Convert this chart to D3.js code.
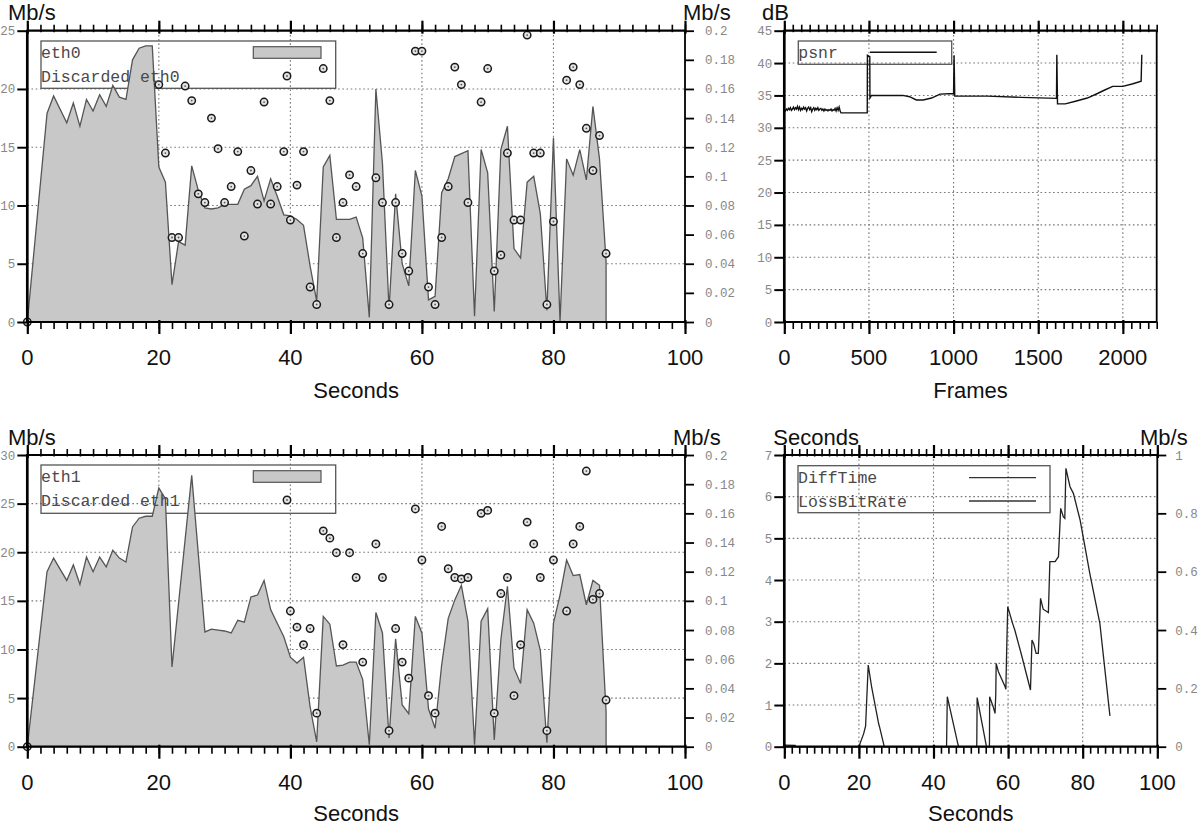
<!DOCTYPE html>
<html><head><meta charset="utf-8">
<script src="https://cdn.jsdelivr.net/npm/d3@7"></script>
<style>body{margin:0;background:#fff}svg{display:block}</style>
</head><body>
<svg width="1200" height="826"></svg>
<script>
// ---------------- DATA ----------------
// eth0 throughput (seconds, Mb/s)
const eth0 = [[0,0],[3,17.9],[4,19.4],[6,17.1],[7,18.8],[8,16.8],[9,19.1],[10,18.1],[11,19.5],[12,18.5],[13,20.3],[14,19.3],[15,19.1],[16,22.5],[17,23.5],[18,23.7],[19,23.7],[20,13.3],[21,12.0],[22,3.2],[23,6.9],[24,6.6],[25,13.4],[26,11.3],[27,9.8],[28,9.7],[29,9.8],[30,10.1],[31,10.1],[32,10.1],[33,11.4],[34,11.7],[35,12.5],[36,10.4],[37,12.3],[38,10.8],[39,9.2],[40,9.1],[41,8.8],[42,8.3],[43,4.8],[44,1.8],[45,13.3],[46,14.3],[47,8.8],[48,8.8],[49,8.8],[50,9.0],[51,7.2],[52,0.4],[53,20.0],[54,13.6],[55,1.1],[56,11.0],[57,5.0],[58,3.1],[59,13.0],[60,10.8],[61,1.9],[62,2.2],[63,11.1],[64,12.3],[65,14.2],[67,14.7],[68,0.5],[69,14.8],[70,12.8],[71,0.9],[72,14.8],[73,16.8],[74,6.3],[75,5.5],[76,12.0],[77,12.5],[78,9.3],[79,1.0],[80,15.8],[81,0.05],[82,14.0],[83,12.6],[84,14.8],[85,12.2],[86,18.5],[87,14.0],[88,5.2]];
// discarded eth0 (seconds, Mb/s on right axis)
const eth0Discarded = [[0,0],[20,0.163],[21,0.116],[22,0.058],[23,0.058],[24,0.162],[25,0.152],[26,0.088],[27,0.082],[28,0.140],[29,0.119],[30,0.082],[31,0.093],[32,0.117],[33,0.059],[34,0.104],[35,0.081],[36,0.151],[37,0.081],[38,0.093],[39,0.117],[40,0.070],[41,0.094],[42,0.117],[43,0.024],[44,0.012],[45,0.174],[46,0.152],[47,0.058],[48,0.082],[49,0.101],[50,0.093],[51,0.047],[53,0.099],[54,0.082],[55,0.012],[56,0.082],[57,0.047],[58,0.035],[59,0.186],[60,0.186],[61,0.024],[62,0.012],[63,0.058],[64,0.093],[65,0.175],[66,0.163],[67,0.082],[69,0.151],[70,0.174],[71,0.035],[72,0.046],[73,0.116],[74,0.070],[75,0.070],[76,0.197],[77,0.116],[78,0.116],[79,0.012],[80,0.069],[82,0.166],[83,0.175],[84,0.163],[85,0.133],[86,0.104],[87,0.128],[88,0.047]];
// eth1 throughput
const eth1 = [[0,0],[3,18.0],[4,19.4],[6,17.1],[7,18.7],[8,16.7],[9,19.5],[10,18.0],[11,19.5],[12,18.5],[13,20.2],[14,19.4],[15,19.0],[16,22.6],[17,23.5],[18,23.7],[19,23.7],[20,26.6],[21,25.5],[22,8.2],[25,27.9],[27,11.8],[28,12.1],[29,12.0],[30,11.9],[31,11.7],[32,13.0],[33,12.8],[34,15.4],[35,15.6],[36,17.1],[37,14.1],[38,12.7],[39,11.3],[40,9.2],[41,8.6],[42,9.2],[43,4.1],[44,0.5],[45,13.4],[46,12.6],[47,8.3],[48,8.4],[49,8.7],[50,8.7],[51,6.9],[52,0.2],[53,13.8],[54,11.7],[55,0.9],[56,11.1],[57,4.3],[58,3.4],[59,13.4],[60,11.7],[61,3.9],[62,1.9],[63,8.4],[64,13.2],[65,15.1],[66,16.6],[67,12.9],[68,0.2],[69,12.9],[70,14.2],[71,0.7],[72,11.0],[73,16.5],[74,8.1],[75,6.5],[76,14.1],[77,12.7],[78,9.9],[79,0.4],[80,12.7],[81,15.6],[82,19.2],[83,17.6],[84,17.7],[85,14.6],[86,17.1],[87,16.6],[88,3.6]];
// discarded eth1
const eth1Discarded = [[0,0],[40,0.093],[41,0.082],[42,0.070],[43,0.081],[44,0.023],[45,0.148],[46,0.143],[47,0.133],[48,0.070],[49,0.133],[50,0.116],[51,0.058],[53,0.139],[54,0.116],[55,0.011],[56,0.081],[57,0.058],[58,0.047],[59,0.163],[60,0.128],[61,0.035],[62,0.023],[63,0.151],[64,0.122],[65,0.116],[66,0.115],[67,0.116],[69,0.160],[70,0.162],[71,0.023],[72,0.105],[73,0.116],[74,0.035],[75,0.070],[76,0.154],[77,0.139],[78,0.116],[79,0.011],[80,0.128],[82,0.093],[83,0.139],[84,0.151],[85,0.189],[86,0.101],[87,0.105],[88,0.032]];
// psnr (frame, dB)
const psnr = [[0,32.8],[6,32.6],[12,32.9],[18,32.7],[24,33.0],[30,32.8],[36,33.1],[42,32.7],[48,32.9],[54,33.2],[60,32.8],[66,33.1],[72,32.9],[78,33.3],[84,32.8],[90,33.2],[96,32.7],[102,33.0],[108,32.8],[114,33.2],[120,32.9],[126,33.1],[132,32.6],[138,33.0],[144,33.2],[150,32.8],[156,33.1],[162,32.5],[168,32.9],[174,33.1],[180,32.7],[186,33.0],[192,32.8],[198,33.1],[204,32.7],[210,32.9],[216,33.0],[222,32.7],[228,32.9],[234,32.6],[240,32.9],[246,32.7],[252,32.8],[258,32.6],[264,32.8],[270,32.7],[276,32.9],[282,32.6],[288,32.8],[294,32.7],[300,33.0],[306,32.6],[312,33.1],[318,32.7],[324,33.2],[330,32.6],[335,32.3],[490,32.3],[491,41.2],[505,41.0],[506,34.6],[515,35.0],[600,35.0],[700,35.0],[740,34.8],[780,34.3],[820,34.3],[870,34.6],[920,35.2],[1000,35.3],[1003,41.2],[1007,34.9],[1200,34.9],[1400,34.7],[1608,34.55],[1610,41.3],[1614,33.7],[1660,33.7],[1720,34.1],[1790,34.6],[1850,35.3],[1890,35.8],[1940,36.4],[2000,36.4],[2060,36.8],[2108,37.2],[2112,41.3]];
// DiffTime (seconds, seconds)
const diffTime = [[0,0.04],[2.9,0.03],[3,0],[20,0],[21.3,0.32],[21.8,0.5],[22.5,1.96],[23.4,1.44],[25.3,0.55],[25.6,0.45],[26.8,0],[43.5,0],[43.7,1.2],[46.6,0.04],[46.8,0],[51.6,0],[51.7,1.18],[54.2,0],[55,0],[55.05,1.2],[56,0.96],[56.5,0.8],[56.7,1.28],[56.8,2.0],[57.4,1.8],[59.2,1.44],[59.4,1.38],[59.6,2.24],[59.9,3.36],[61.2,2.96],[61.8,2.8],[63.6,2.2],[66.0,1.36],[66.4,2.56],[66.9,2.46],[67.5,2.24],[68.1,2.24],[68.7,3.56],[69.4,3.3],[70.8,3.22],[71.2,4.44],[72.6,4.44],[73.5,4.56],[74.1,5.72],[74.8,5.52],[75.2,5.48],[75.5,6.68],[76.6,6.24],[77.5,6.08],[79.3,5.44],[81.9,4.16],[84.6,2.96],[87.3,0.74]];
// LossBitRate (seconds, Mb/s on right axis) - lies on the zero line
const lossBitRate = [[0,0],[87,0]];

// tick values / labels
const secTicks = [0,20,40,60,80,100];
const frameTicks = [0,500,1000,1500,2000];
const eth0YTicks = [0,5,10,15,20,25];
const eth1YTicks = [0,5,10,15,20,25,30];
const psnrYTicks = [0,5,10,15,20,25,30,35,40,45];
const diffYTicks = [0,1,2,3,4,5,6,7];
const discTicks = [0,0.02,0.04,0.06,0.08,0.1,0.12,0.14,0.16,0.18,0.2];
const discTickLabels = ["0","0.02","0.04","0.06","0.08","0.1","0.12","0.14","0.16","0.18","0.2"];
const lossTicks = [0,0.2,0.4,0.6,0.8,1];
const lossTickLabels = ["0","0.2","0.4","0.6","0.8","1"];

// ---------------- DRAWING ----------------
const SANS = '"Liberation Sans", Arial, Helvetica, sans-serif';
const MONO = '"Liberation Mono", "Courier New", monospace';
const svg = d3.select('svg');

function panel(o) {
  const x = d3.scaleLinear().domain(o.xDomain).range([o.left, o.right]);
  const y = d3.scaleLinear().domain(o.yDomain).range([o.bottom, o.top]);
  const y2 = o.y2Domain ? d3.scaleLinear().domain(o.y2Domain).range([o.bottom, o.top]) : null;
  const g = svg.append('g');
  const L = {
    grid: g.append('g'), legendBox: g.append('g'), data: g.append('g'),
    marks: g.append('g'), legendText: g.append('g'), axes: g.append('g')
  };
  // grid
  L.grid.selectAll('line.v').data(o.xGrid).join('line').attr('class','v')
    .attr('x1', d => x(d)).attr('x2', d => x(d)).attr('y1', o.top).attr('y2', o.bottom);
  L.grid.selectAll('line.h').data(o.yGrid).join('line').attr('class','h')
    .attr('y1', d => y(d)).attr('y2', d => y(d)).attr('x1', o.left).attr('x2', o.right);
  L.grid.selectAll('line').attr('stroke', '#777').attr('stroke-width', 1.1).attr('stroke-dasharray', '1.6,2.6');

  const ax = L.axes;
  const clean = s => { s.select('.domain').remove(); s.selectAll('text').remove(); };
  const minor = d3.range(o.xDomain[0], o.xDomain[1] + 1e-9, o.xMinorStep);
  // bottom minor / major
  ax.append('g').attr('transform', `translate(0,${o.bottom})`)
    .call(d3.axisBottom(x).tickValues(minor).tickSize(7)).call(clean)
    .selectAll('line').attr('stroke', '#000').attr('stroke-width', 1.6);
  ax.append('g').attr('transform', `translate(0,${o.bottom})`)
    .call(d3.axisBottom(x).tickValues(o.xTicks).tickSize(12)).call(clean)
    .selectAll('line').attr('y1', -2).attr('stroke', '#000').attr('stroke-width', 2.2);
  // top minor / major
  ax.append('g').attr('transform', `translate(0,${o.top})`)
    .call(d3.axisTop(x).tickValues(minor).tickSize(6)).call(clean)
    .selectAll('line').attr('y1', 1.5).attr('stroke', '#000').attr('stroke-width', 1.6);
  ax.append('g').attr('transform', `translate(0,${o.top})`)
    .call(d3.axisTop(x).tickValues(o.xTicks).tickSize(10)).call(clean)
    .selectAll('line').attr('y1', 3).attr('stroke', '#000').attr('stroke-width', 2.2);
  // left ticks
  ax.append('g').attr('transform', `translate(${o.left},0)`)
    .call(d3.axisLeft(y).tickValues(o.yTicks).tickSize(10)).call(clean)
    .selectAll('line').attr('stroke', '#000').attr('stroke-width', 2);
  ax.selectAll('text.yl').data(o.yTicks).join('text').attr('class','yl')
    .attr('x', o.left - 12).attr('y', d => y(d) + 4.5).attr('text-anchor', 'end')
    .attr('font-family', MONO).attr('font-size', 12.5).attr('fill', '#888').text(d => d);
  // right ticks
  if (y2) {
    ax.append('g').attr('transform', `translate(${o.right},0)`)
      .call(d3.axisRight(y2).tickValues(o.y2Ticks).tickSize(9)).call(clean)
      .selectAll('line').attr('stroke', '#000').attr('stroke-width', 1.8);
    ax.selectAll('text.y2l').data(o.y2Ticks).join('text').attr('class','y2l')
      .attr('x', o.right + o.y2LabelGap).attr('y', d => y2(d) + 4.5)
      .attr('font-family', MONO).attr('font-size', 12.5).attr('fill', '#888')
      .text((d, i) => o.y2Labels[i]);
  }
  // border
  const bl = (x1, y1, x2, y2_, w) => ax.append('line').attr('x1', x1).attr('y1', y1).attr('x2', x2).attr('y2', y2_)
    .attr('stroke', '#000').attr('stroke-width', w);
  bl(o.left, o.top, o.right, o.top, 2.2);
  bl(o.left, o.bottom, o.right, o.bottom, 2.2);
  bl(o.right, o.top, o.right, o.bottom, 1.8);
  bl(o.left, o.top - 1, o.left, o.bottom + 1, 2.7);
  // x tick labels
  ax.selectAll('text.xl').data(o.xTicks).join('text').attr('class','xl')
    .attr('x', d => x(d)).attr('y', o.bottom + 43).attr('text-anchor', 'middle')
    .attr('font-family', SANS).attr('font-size', 22).attr('fill', '#111').text(d => d);
  // x title
  ax.append('text').attr('x', (o.left + o.right) / 2).attr('y', o.bottom + o.xTitleDy).attr('text-anchor', 'middle')
    .attr('font-family', SANS).attr('font-size', 22).attr('fill', '#111').text(o.xTitle);
  // y titles
  ax.append('text').attr('x', o.yTitleX).attr('y', o.top - 10.5)
    .attr('font-family', SANS).attr('font-size', 22).attr('fill', '#111').text(o.yTitle);
  if (o.y2Title) ax.append('text').attr('x', o.y2TitleX).attr('y', o.top - 10.5)
    .attr('font-family', SANS).attr('font-size', 22).attr('fill', '#111').text(o.y2Title);
  // legend box
  const b = o.legendBox;
  L.legendBox.append('rect').attr('x', b[0]).attr('y', b[1]).attr('width', b[2] - b[0]).attr('height', b[3] - b[1])
    .attr('fill', 'none').attr('stroke', '#555').attr('stroke-width', 1.3);
  return {x, y, y2, L};
}

function marker(sel, cx, cy) {
  sel.append('circle').attr('cx', cx).attr('cy', cy).attr('r', 3.7)
    .attr('fill', '#e4e4e4').attr('stroke', '#1a1a1a').attr('stroke-width', 1.5);
  sel.append('circle').attr('cx', cx).attr('cy', cy).attr('r', 0.9).attr('fill', '#555');
}
function legendText(sel, x, y, t) {
  sel.append('text').attr('x', x).attr('y', y).attr('font-family', MONO).attr('font-size', 16.5)
    .attr('fill', '#4a4a4a').text(t);
}

function ethPanel(o, series, discarded, name) {
  const p = panel(o);
  const area = d3.area().x(d => p.x(d[0])).y0(p.y(0)).y1(d => p.y(d[1]));
  p.L.data.append('path').datum(series).attr('d', area)
    .attr('fill', '#c8c8c8').attr('stroke', '#555').attr('stroke-width', 1.3).attr('stroke-linejoin', 'miter');
  discarded.forEach(d => marker(p.L.marks, p.x(d[0]), p.y2(d[1])));
  const b = o.legendBox;
  legendText(p.L.legendText, b[0], b[1] + 17.3, name);
  legendText(p.L.legendText, b[0], b[1] + 40.7, 'Discarded ' + name);
  p.L.legendText.append('rect').attr('x', 253.3).attr('y', b[1] + 5.7).attr('width', 67.7).attr('height', 11.6)
    .attr('fill', '#c8c8c8').attr('stroke', '#555').attr('stroke-width', 1.2);
  marker(p.L.legendText, 287, b[1] + 35);
}

// Top-left: eth0
ethPanel({
  left: 27.3, right: 685, top: 30.7, bottom: 322,
  xDomain: [0, 100], yDomain: [0, 25], y2Domain: [0, 0.2],
  xTicks: secTicks, xMinorStep: 2, yTicks: eth0YTicks,
  y2Ticks: discTicks, y2Labels: discTickLabels, y2LabelGap: 20,
  xGrid: [20, 40, 60, 80], yGrid: [5, 10, 15, 20],
  xTitle: 'Seconds', xTitleDy: 76, yTitle: 'Mb/s', yTitleX: 8, y2Title: 'Mb/s', y2TitleX: 683,
  legendBox: [41, 41, 335.7, 88.3]
}, eth0, eth0Discarded, 'eth0');

// Bottom-left: eth1
ethPanel({
  left: 27.3, right: 685, top: 455, bottom: 746.7,
  xDomain: [0, 100], yDomain: [0, 30], y2Domain: [0, 0.2],
  xTicks: secTicks, xMinorStep: 2, yTicks: eth1YTicks,
  y2Ticks: discTicks, y2Labels: discTickLabels, y2LabelGap: 20,
  xGrid: [20, 40, 60, 80], yGrid: [5, 10, 15, 20, 25],
  xTitle: 'Seconds', xTitleDy: 74, yTitle: 'Mb/s', yTitleX: 8, y2Title: 'Mb/s', y2TitleX: 673,
  legendBox: [41, 465, 335.7, 513.3]
}, eth1, eth1Discarded, 'eth1');

// Top-right: psnr
(function () {
  const o = {
    left: 784.3, right: 1156.7, top: 30.7, bottom: 322,
    xDomain: [0, 2200], yDomain: [0, 45],
    xTicks: frameTicks, xMinorStep: 50, yTicks: psnrYTicks,
    xGrid: [500, 1000, 1500, 2000], yGrid: [5, 10, 15, 20, 25, 30, 35, 40],
    xTitle: 'Frames', xTitleDy: 76, yTitle: 'dB', yTitleX: 762,
    legendBox: [798.3, 41, 951.7, 64.3]
  };
  const p = panel(o);
  const line = d3.line().x(d => p.x(d[0])).y(d => p.y(d[1]));
  p.L.data.append('path').datum(psnr).attr('d', line).attr('fill', 'none')
    .attr('stroke', '#111').attr('stroke-width', 1.4);
  legendText(p.L.legendText, 798.3, 58, 'psnr');
  p.L.legendText.append('line').attr('x1', 870).attr('x2', 936.7).attr('y1', 52.3).attr('y2', 52.3)
    .attr('stroke', '#111').attr('stroke-width', 1.4);
})();

// Bottom-right: DiffTime / LossBitRate
(function () {
  const o = {
    left: 784.3, right: 1157.3, top: 455, bottom: 746.7,
    xDomain: [0, 100], yDomain: [0, 7], y2Domain: [0, 1],
    xTicks: secTicks, xMinorStep: 2, yTicks: diffYTicks,
    y2Ticks: lossTicks, y2Labels: lossTickLabels, y2LabelGap: 18,
    xGrid: [20, 40, 60, 80], yGrid: [1, 2, 3, 4, 5, 6],
    xTitle: 'Seconds', xTitleDy: 74, yTitle: 'Seconds', yTitleX: 773.3, y2Title: 'Mb/s', y2TitleX: 1140,
    legendBox: [798, 465.7, 1050, 512.7]
  };
  const p = panel(o);
  const line = d3.line().x(d => p.x(d[0])).y(d => p.y(d[1]));
  const line2 = d3.line().x(d => p.x(d[0])).y(d => p.y2(d[1]));
  p.L.data.append('path').datum(lossBitRate).attr('d', line2).attr('fill', 'none')
    .attr('stroke', '#222').attr('stroke-width', 1.3);
  p.L.data.append('path').datum(diffTime).attr('d', line).attr('fill', 'none')
    .attr('stroke', '#222').attr('stroke-width', 1.3);
  legendText(p.L.legendText, 798, 483, 'DiffTime');
  legendText(p.L.legendText, 798, 507, 'LossBitRate');
  [477.7, 501].forEach(yy => p.L.legendText.append('line').attr('x1', 969).attr('x2', 1036)
    .attr('y1', yy).attr('y2', yy).attr('stroke', '#333').attr('stroke-width', 1.3));
})();
</script>
</body></html>
